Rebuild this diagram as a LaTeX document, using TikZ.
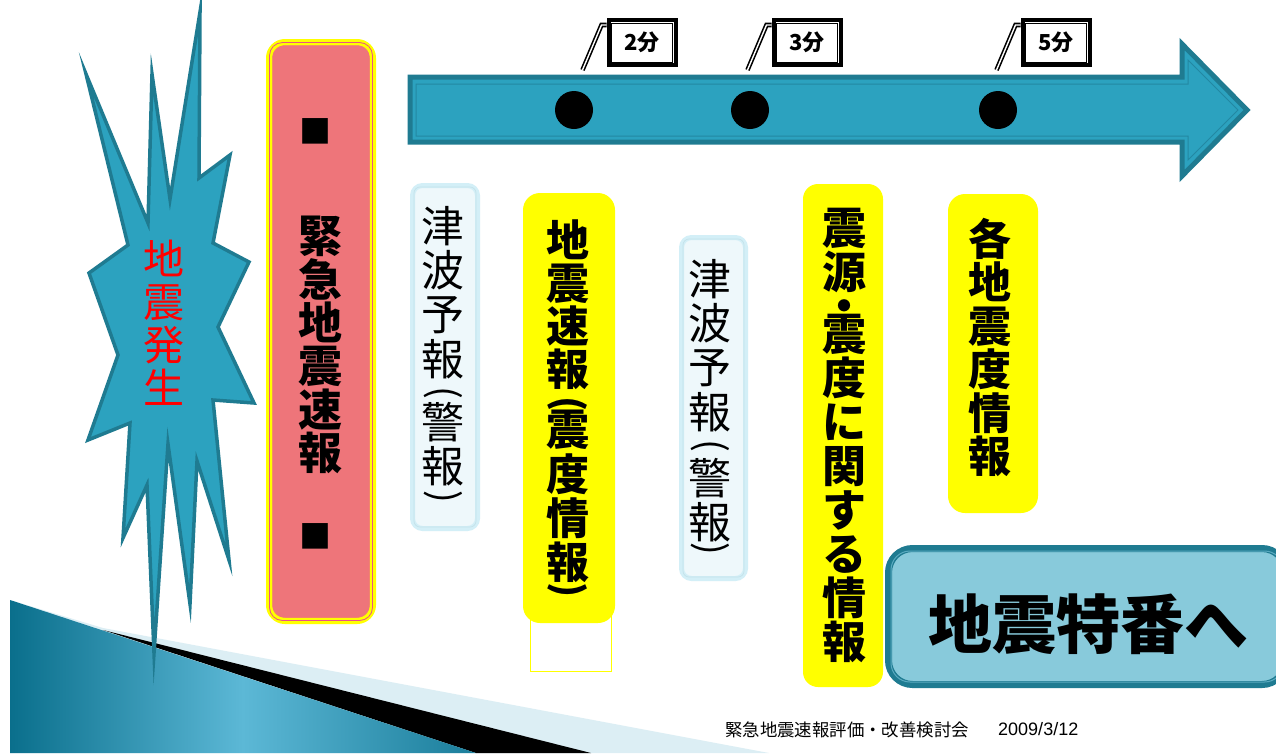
\documentclass[tikz,border=0pt]{standalone}
\usepackage{fontspec}
\usepackage{graphicx}
\setmainfont{Liberation Sans}
\newfontfamily\jp{Noto Sans CJK JP}
\newcommand{\vpar}[1]{\rotatebox[origin=c]{-90}{#1}}
\definecolor{tealfill}{HTML}{2CA2BF}
\definecolor{tealdark}{HTML}{1F7B91}
\definecolor{tealline}{HTML}{2388A2}
\definecolor{pinkfill}{HTML}{EE757A}
\definecolor{pinkline}{HTML}{E8508A}
\definecolor{yel}{HTML}{FFFF00}
\definecolor{cyanfill}{HTML}{EEF8FB}
\definecolor{cyanedge}{HTML}{D3EFF7}
\definecolor{cyanline}{HTML}{C4E2EA}
\definecolor{tokuban}{HTML}{88CADB}
\definecolor{tokubanline}{HTML}{5AAAC0}
\definecolor{lightband}{HTML}{DCEEF4}
\definecolor{bluedark}{HTML}{0A6F8C}
\definecolor{bluelight}{HTML}{5CB8D6}
\begin{document}
\begin{tikzpicture}[x=1pt,y=-1pt,
  burst/.style={fill=tealfill,draw=tealdark,line width=3.5pt,line join=miter,miter limit=20},
  arrowbody/.style={fill=tealfill,draw=tealdark,line width=5pt,line join=miter},
  dot/.style={circle,fill=black,minimum size=38pt,inner sep=0pt},
  timebox/.style={rectangle,draw=black,fill=white,line width=4pt,minimum width=67pt,minimum height=45pt,inner sep=0pt,font=\jp\bfseries\fontsize{22}{22}\selectfont},
  callout/.style={draw=black,double=white,line width=1.6pt,double distance=1.4pt},
  cyanbox/.style={rectangle,rounded corners=10pt,fill=cyanfill,draw=cyanedge,line width=5pt},
  yelbox/.style={rectangle,rounded corners=17pt,fill=yel},
  pinkbox/.style={rectangle,rounded corners=16pt,fill=pinkfill,draw=yel,line width=6pt},
  tokubox/.style={rectangle,rounded corners=24pt,fill=tokuban,draw=tealdark,line width=7pt},
  vtext/.style={anchor=north,inner sep=0pt,align=center},
  vparen/.style={inner sep=0pt,font=\jp\fontsize{38}{38}\selectfont},
  vparenb/.style={inner sep=0pt,font=\jp\bfseries\fontsize{38}{38}\selectfont},
  regtxt/.style={font=\jp\fontsize{43}{44.3}\selectfont},
]
\useasboundingbox (0,0) rectangle (1276,753);
\fill[white] (0,0) rectangle (1276,753);

% bottom decoration
\fill[lightband] (10,600) -- (103,628) -- (769,753) -- (10,753) -- cycle;
\fill[black] (103,630) -- (591,753) -- (476,753) -- cycle;
\shade[left color=bluedark, right color=bluedark!80!bluelight, middle color=bluelight] (10,600) -- (476,753) -- (10,753) -- cycle;

% burst
\filldraw[burst] (200,12) -- (199,178) -- (230,155) -- (213,243) -- (249,262) -- (218,327) -- (254,403) -- (213,400) -- (229,560) -- (197,461) -- (190,604) -- (168,444) -- (154,653) -- (147,485) -- (123,538) -- (130,423) -- (88,440) -- (118,355) -- (89,273) -- (128,245) -- (86,74) -- (148,223) -- (152,74) -- (170,199) -- cycle;
\node[vtext,text=red,font=\jp\fontsize{41}{43}\selectfont] (hassei) at (164,240) {地\\震\\発\\生};

% pink box
\node[pinkbox,minimum width=104pt,minimum height=579pt] (kinkyu) at (321,331.5) {};
\draw[pinkline,line width=0.8pt,rounded corners=13pt] ([xshift=3.5pt,yshift=-3.5pt]kinkyu.north west) rectangle ([xshift=-3.5pt,yshift=3.5pt]kinkyu.south east);
\draw[yel,line width=1.2pt,rounded corners=12pt] ([xshift=5.5pt,yshift=-5.5pt]kinkyu.north west) rectangle ([xshift=-5.5pt,yshift=5.5pt]kinkyu.south east);
\node[inner sep=0pt,font=\jp\fontsize{32}{32}\selectfont] (sq1) at (315,131) {■};
\node[inner sep=0pt,font=\jp\fontsize{32}{32}\selectfont] (sq2) at (315,536) {■};
\node[vtext,font=\jp\bfseries\fontsize{44}{43.4}\selectfont] (kinkyutxt) at (320,216) {緊\\急\\地\\震\\速\\報};

% arrow
\filldraw[arrowbody] (410,77) -- (1182,77) -- (1182,44) -- (1247,110) -- (1182,176) -- (1182,142) -- (410,142) -- cycle;
\draw[tealline,line width=1pt] (416,84) -- (1188,84) -- (1188,60) -- (1238,110) -- (1188,160) -- (1188,136) -- (416,136) -- cycle;
\node[dot] (d2) at (574,110) {};
\node[dot] (d3) at (750,110) {};
\node[dot] (d5) at (998,110) {};

% time labels
\foreach \nm/\cx/\tx in {t2/642/2分, t3/807/3分, t5/1056/5分}{
  \node[timebox] (\nm) at (\cx,42.5) {\tx};
  \draw[black,line width=0.9pt] ([xshift=5pt,yshift=-5pt]\nm.north west) rectangle ([xshift=-5pt,yshift=5pt]\nm.south east);
  \draw[callout] ([yshift=17.5pt]\nm.west) -- ++(-5,0) -- ++(-19,45);
}

% tsunami boxes
\node[cyanbox,minimum width=65pt,minimum height=343pt] (tsunami1) at (445,357) {};
\draw[cyanline,line width=0.7pt,rounded corners=6pt] ([xshift=4pt,yshift=-4pt]tsunami1.north west) rectangle ([xshift=-4pt,yshift=4pt]tsunami1.south east);
\node[vtext,regtxt] (tsunami1a) at (443,206) {津\\波\\予\\報};
\node[vparen] (tsunami1p) at (443,396) {\vpar{(}};
\node[vtext,regtxt] (tsunami1b) at (443,402) {警\\報};
\node[vparen] (tsunami1q) at (443,500) {\vpar{)}};

\node[cyanbox,minimum width=64pt,minimum height=341pt] (tsunami2) at (713.5,408) {};
\draw[cyanline,line width=0.7pt,rounded corners=6pt] ([xshift=4pt,yshift=-4pt]tsunami2.north west) rectangle ([xshift=-4pt,yshift=4pt]tsunami2.south east);
\node[vtext,regtxt] (tsunami2a) at (710,259) {津\\波\\予\\報};
\node[vparen] (tsunami2p) at (710,449) {\vpar{(}};
\node[vtext,regtxt] (tsunami2b) at (710,458) {警\\報};
\node[vparen] (tsunami2q) at (710,552) {\vpar{)}};

% yellow boxes
\node[draw=yel,line width=1pt,minimum width=81pt,minimum height=55pt,inner sep=0pt] (blank) at (570.5,643.5) {};
\node[yelbox,minimum width=92pt,minimum height=430pt] (sokuho) at (569,408) {};
\node[vtext,font=\jp\bfseries\fontsize{43}{43}\selectfont] (sokuhoa) at (567.5,220) {地\\震\\速\\報};
\node[vparenb] (sokuhop) at (567.5,406) {\vpar{(}};
\node[vtext,font=\jp\bfseries\fontsize{43}{44.3}\selectfont] (sokuhob) at (567.5,410) {震\\度\\情\\報};
\node[vparenb] (sokuhoq) at (567.5,592.5) {\vpar{)}};

\node[yelbox,rounded corners=15pt,minimum width=80pt,minimum height=503pt] (shingen) at (843,435.5) {};
\node[vtext,font=\jp\bfseries\fontsize{44}{44}\selectfont] (shingentxt) at (844,208) {震\\源\\[-10pt]・\\[-16pt]震\\度\\に\\関\\す\\る\\情\\報};

\node[yelbox,minimum width=90pt,minimum height=319pt] (kakuchi) at (993,353.5) {};
\node[vtext,font=\jp\bfseries\fontsize{43}{43.5}\selectfont] (kakuchitxt) at (990,218) {各\\地\\震\\度\\情\\報};

% tokuban
\node[tokubox,minimum width=397.5pt,minimum height=136pt] (tokuban) at (1087.25,616.5) {};
\draw[tokubanline,line width=1pt,rounded corners=19pt] ([xshift=6pt,yshift=-6pt]tokuban.north west) rectangle ([xshift=-6pt,yshift=6pt]tokuban.south east);
\node[inner sep=0pt,font=\jp\bfseries\fontsize{64}{64}\selectfont] (tokubantxt) at (1088,624.5) {地震特番へ};

% footer
\node[anchor=west,inner sep=0pt,font=\jp\fontsize{17.4}{18}\selectfont] (foot1) at (725,729.5) {緊急地震速報評価・改善検討会};
\node[anchor=west,inner sep=0pt,font=\fontsize{18}{18}\selectfont] (foot2) at (998,729.5) {2009/3/12};
\end{tikzpicture}
\end{document}
